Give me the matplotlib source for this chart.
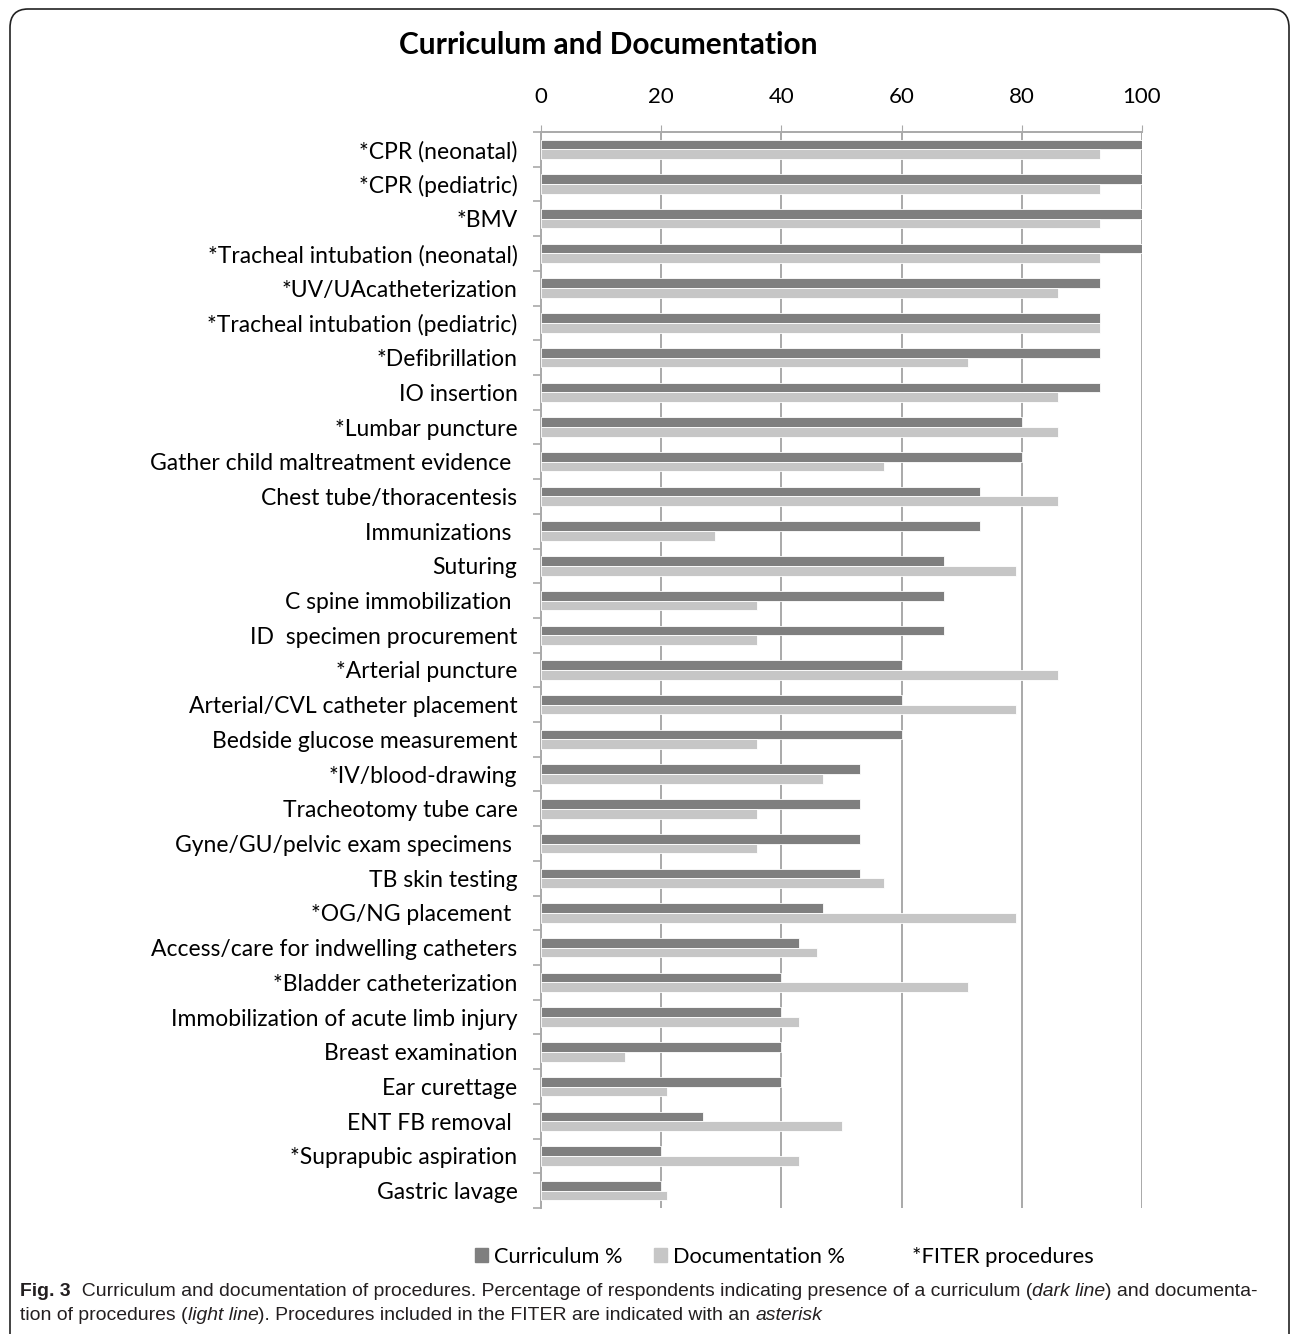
import matplotlib
matplotlib.use("Agg")
import matplotlib.pyplot as plt
from matplotlib.patches import Patch, FancyBboxPatch
import numpy as np

# data
procedures = [
    "*CPR (neonatal)", "*CPR (pediatric)", "*BMV",
    "*Tracheal intubation (neonatal)", "*UV/UAcatheterization",
    "*Tracheal intubation (pediatric)", "*Defibrillation", "IO insertion",
    "*Lumbar puncture", "Gather child maltreatment evidence ",
    "Chest tube/thoracentesis", "Immunizations ", "Suturing",
    "C spine immobilization ", "ID  specimen procurement",
    "*Arterial puncture", "Arterial/CVL catheter placement",
    "Bedside glucose measurement", "*IV/blood-drawing",
    "Tracheotomy tube care", "Gyne/GU/pelvic exam specimens ",
    "TB skin testing", "*OG/NG placement ",
    "Access/care for indwelling catheters", "*Bladder catheterization",
    "Immobilization of acute limb injury", "Breast examination",
    "Ear curettage", "ENT FB removal ", "*Suprapubic aspiration",
    "Gastric lavage",
]
curriculum = [100, 100, 100, 100, 93, 93, 93, 93, 80, 80, 73, 73, 67, 67, 67,
              60, 60, 60, 53, 53, 53, 53, 47, 43, 40, 40, 40, 40, 27, 20, 20]
documentation = [93, 93, 93, 93, 86, 93, 71, 86, 86, 57, 86, 29, 79, 36, 36,
                 86, 79, 36, 47, 36, 36, 57, 79, 46, 71, 43, 14, 21, 50, 43, 21]
xticks = [0, 20, 40, 60, 80, 100]

DARK = "#7f7f7f"
LIGHT = "#c6c6c6"
GRID = "#a9a9a9"
LBL = ["Lato", "DejaVu Sans"]
CAP = ["Liberation Sans Narrow", "Liberation Sans", "DejaVu Sans"]

W, H = 1292, 1334
fig = plt.figure(figsize=(W / 100, H / 100), dpi=100)

# rounded frame around the figure panel
frame = FancyBboxPatch((10 / W, -0.05), 1279 / W, 1.05 - 9 / H,
                       boxstyle="round,pad=0,rounding_size=0.014",
                       transform=fig.transFigure, fill=False,
                       edgecolor="#222222", linewidth=1.2)
fig.patches.append(frame)

ax = fig.add_axes([541 / W, 1 - 1208 / H, 601 / W, 1076 / H])
y = np.arange(len(procedures))
bh = 0.28
ax.barh(y - bh / 2, curriculum, height=bh, color=DARK, edgecolor="white",
        linewidth=0.6, zorder=3)
ax.barh(y + bh / 2, documentation, height=bh, color=LIGHT, edgecolor="white",
        linewidth=0.6, zorder=3)

ax.set_xlim(0, 100)
ax.set_ylim(len(procedures) - 0.5, -0.5)
ax.xaxis.tick_top()
ax.set_xticks(xticks)
ax.set_xticklabels([str(t) for t in xticks], family=LBL, fontsize=16)
ax.tick_params(axis="x", length=5, color=GRID, pad=13)
ax.set_yticks(y)
ax.set_yticklabels(procedures, family=LBL, fontsize=16.5)
ax.tick_params(axis="y", length=0, pad=17)
ax.set_yticks(np.arange(len(procedures) + 1) - 0.5, minor=True)
ax.tick_params(axis="y", which="minor", length=6, color=GRID, width=1.2)
ax.grid(axis="x", color=GRID, linewidth=1.4, zorder=0)
for s in ("right", "bottom"):
    ax.spines[s].set_visible(False)
for s in ("left", "top"):
    ax.spines[s].set_color(GRID)
    ax.spines[s].set_linewidth(1.4)

fig.text(608 / W, 1 - 45 / H, "Curriculum and Documentation", family=LBL,
         fontsize=21.5, fontweight="bold", ha="center", va="center")

handles = [Patch(color=DARK, label="Curriculum %"),
           Patch(color=LIGHT, label="Documentation %")]
fig.legend(handles=handles, loc="center", bbox_to_anchor=(660 / W, 1 - 1257 / H),
           ncol=2, frameon=False, prop={"family": LBL, "size": 15.7},
           handlelength=0.6, handleheight=0.6, handletextpad=0.3,
           columnspacing=1.4)
fig.text(912 / W, 1 - 1257 / H, "*FITER procedures", family=LBL,
         fontsize=15.8, va="center", ha="left")

# caption, drawn as runs of differently styled text
renderer = fig.canvas.get_renderer()


def caption_line(x0, ypix, runs):
    x = x0
    for txt, weight, style in runs:
        t = fig.text(x / W, 1 - ypix / H, txt, family=CAP, fontsize=13.95,
                     fontweight=weight, fontstyle=style, va="center",
                     ha="left", color="#231f20")
        x += t.get_window_extent(renderer).width


caption_line(20, 1292, [
    ("Fig. 3", "bold", "normal"),
    ("  Curriculum and documentation of procedures. Percentage of respondents "
     "indicating presence of a curriculum (", "normal", "normal"),
    ("dark line", "normal", "italic"),
    (") and documenta-", "normal", "normal"),
])
caption_line(20, 1316, [
    ("tion of procedures (", "normal", "normal"),
    ("light line", "normal", "italic"),
    ("). Procedures included in the FITER are indicated with an ", "normal",
     "normal"),
    ("asterisk", "normal", "italic"),
])

fig.savefig("out.png", dpi=100)
